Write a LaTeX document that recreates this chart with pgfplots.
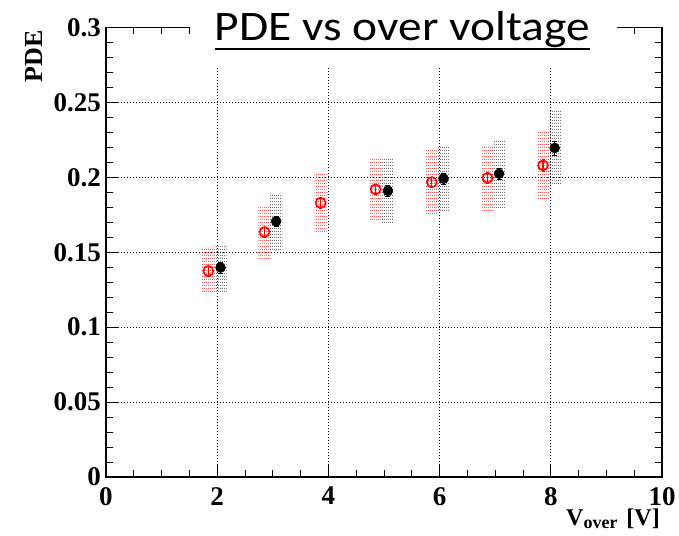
\documentclass[border=0pt]{standalone}
\usepackage{fontspec}
\setmainfont{Liberation Serif}
\newfontfamily\calibri{Carlito}[FakeStretch=1.13]
\usepackage{pgfplots}
\pgfplotsset{compat=1.18}
\usepackage{pgfplotstable}
\usetikzlibrary{patterns.meta}

\tikzdeclarepattern{
  name=rootdots,
  type=uncolored,
  bounding box={(0,0) and (2pt,3pt)},
  tile size={(2pt,3pt)},
  code={\fill (0,0) rectangle (1pt,1.5pt);}
}

\pgfplotstableread{
x y ey
1.84 0.1375 0.0035
2.85 0.1635 0.0035
3.86 0.1830 0.0035
4.85 0.1920 0.0035
5.86 0.1968 0.0035
6.86 0.1996 0.0035
7.86 0.2080 0.0040
}\redpts

\pgfplotstableread{
x y ey
2.06 0.1398 0.0035
3.06 0.1707 0.0035
5.07 0.1910 0.0035
6.07 0.1991 0.0035
7.07 0.2024 0.0035
8.07 0.2196 0.0045
}\blackpts

\newcommand{\ebox}[5]{\addplot[draw=none, pattern=rootdots, pattern color=#5] coordinates {(#1,#3) (#2,#3) (#2,#4) (#1,#4) (#1,#3)};}

\begin{document}
\begin{tikzpicture}
\useasboundingbox (-106pt,-58pt) rectangle (573pt,477pt);
\begin{axis}[
  at={(0,0)}, anchor=origin,
  scale only axis, width=556pt, height=449.5pt,
  xmin=0, xmax=10, ymin=0, ymax=0.3,
  xtick={0,2,4,6,8,10},
  ytick={0,0.05,0.1,0.15,0.2,0.25,0.3},
  yticklabels={0,0.05,0.1,0.15,0.2,0.25,0.3},
  minor x tick num=3, minor y tick num=4,
  tick pos=both, tick align=inside,
  major tick length=13pt, minor tick length=7pt,
  every tick/.style={black, line width=1pt},
  axis line style={line width=1.5pt},
  grid=major,
  major grid style={black, line width=0.7pt, dash pattern=on 1pt off 2pt},
  /pgf/number format/assume math mode=true,
  ticklabel style={font=\bfseries\fontsize{27}{27}\selectfont},
  x tick label style={inner sep=0pt, anchor=north, yshift=-10pt},
  y tick label style={inner sep=0pt, anchor=east, xshift=-5pt},
  xlabel={V\raisebox{-3pt}{\fontsize{18}{18}\selectfont over}\hspace{9pt}[V]},
  xlabel style={font=\bfseries\fontsize{24}{24}\selectfont, inner sep=0pt,
    at={(axis description cs:0.9964,-0.1090)}, anchor=base east},
  ylabel={PDE},
  ylabel style={font=\bfseries\fontsize{26}{26}\selectfont, inner sep=0pt,
    at={(axis description cs:-0.1151,0.9944)}, anchor=base east, rotate=0},
]
% systematic error boxes (red)
\ebox{1.73}{1.95}{0.1227}{0.1527}{red}
\ebox{2.74}{2.96}{0.1453}{0.1813}{red}
\ebox{3.75}{3.97}{0.1624}{0.2035}{red}
\ebox{4.74}{4.96}{0.1702}{0.2124}{red}
\ebox{5.75}{5.97}{0.1747}{0.2180}{red}
\ebox{6.75}{6.97}{0.1780}{0.2213}{red}
\ebox{7.75}{7.97}{0.1847}{0.2313}{red}
% systematic error boxes (black)
\ebox{1.95}{2.17}{0.1233}{0.1553}{black!85}
\ebox{2.95}{3.17}{0.1513}{0.1890}{black!85}
\ebox{4.96}{5.18}{0.1700}{0.2124}{black!85}
\ebox{5.96}{6.18}{0.1769}{0.2213}{black!85}
\ebox{6.96}{7.18}{0.1802}{0.2247}{black!85}
\ebox{7.96}{8.18}{0.1958}{0.2447}{black!85}
% points
\addplot[only marks, red, mark=o, mark size=5pt, mark options={line width=1.6pt},
  error bars/.cd, y dir=both, y explicit,
  error bar style={line width=1.2pt, red}, error mark options={rotate=90, mark size=1.5pt, red}]
  table[x=x, y=y, y error=ey] {\redpts};
\addplot[only marks, black, mark=*, mark size=5pt,
  error bars/.cd, y dir=both, y explicit,
  error bar style={line width=1.2pt, black}, error mark options={rotate=90, mark size=2.5pt, black}]
  table[x=x, y=y, y error=ey] {\blackpts};
\end{axis}
% title pad covering the frame
\fill[white] (84pt,411pt) rectangle (511pt,477pt);
\node[font=\calibri\fontsize{42}{42}\selectfont, inner sep=0pt, anchor=base] (t) at (296.5pt,436.3pt) {PDE vs over voltage};
\draw[line width=2.4pt] ([yshift=-8.6pt]t.base west) -- ([yshift=-8.6pt]t.base east);
\end{tikzpicture}
\end{document}
